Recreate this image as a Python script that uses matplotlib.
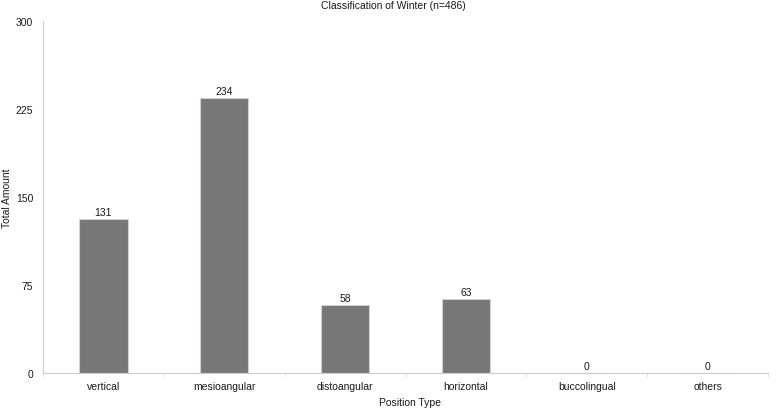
import matplotlib
matplotlib.use("Agg")
import matplotlib.pyplot as plt
import numpy as np

categories = ["vertical", "mesioangular", "distoangular", "horizontal", "buccolingual", "others"]
values = [131, 234, 58, 63, 0, 0]
yticks = [0, 75, 150, 225, 300]

plt.rcParams['font.family'] = ['Liberation Sans', 'DejaVu Sans']
FS = 7.5
TXT = "#1a1a1a"

W, H = 778, 410
fig = plt.figure(figsize=(W/100, H/100), dpi=100)
ax = fig.add_axes([43/W, 1-374/H, (768-43)/W, (374-22)/H])

x = np.arange(len(categories))
ax.bar(x, values, width=0.4, color="#777777", edgecolor="#d0d0d0", linewidth=0.8)
for xi, v in zip(x, values):
    ax.text(xi, v + 2, str(v), ha="center", va="bottom", fontsize=FS, color=TXT)

ax.set_xlim(-0.5, len(categories) - 0.5)
ax.set_ylim(0, 300)
ax.set_yticks(yticks)
ax.set_xticks(x)
ax.set_xticklabels(categories)
ax.set_xticks(np.arange(len(categories) + 1) - 0.5, minor=True)
ax.tick_params(axis="x", which="major", length=0, labelsize=FS, pad=6, colors=TXT)
ax.tick_params(axis="x", which="minor", length=3, color="#e0e0e0")
ax.tick_params(axis="y", length=0, labelsize=FS, pad=7, colors=TXT)

for s in ["top", "right"]:
    ax.spines[s].set_visible(False)
for s in ["left", "bottom"]:
    ax.spines[s].set_color("#cccccc")
    ax.spines[s].set_linewidth(0.8)

fig.text(393/W, 1 - 6/H, "Classification of Winter (n=486)",
         ha="center", va="center", fontsize=FS, color=TXT)
fig.text(410/W, 1 - 403/H, "Position Type",
         ha="center", va="center", fontsize=FS, color=TXT)
fig.text(7/W, 1 - 198/H, "Total Amount", rotation=90,
         ha="center", va="center", fontsize=FS, color=TXT)

fig.savefig("out.png", dpi=100)
